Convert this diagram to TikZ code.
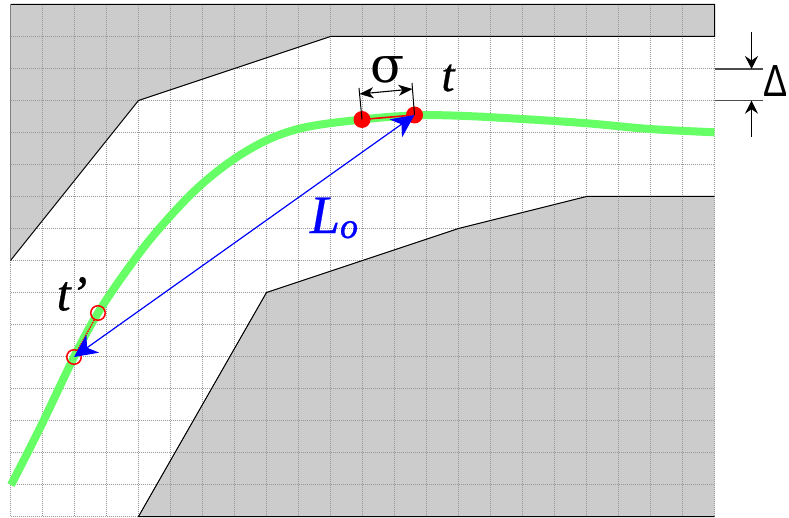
\documentclass[tikz,border=0pt]{standalone}
\usepackage{fontspec}
\setmainfont{Liberation Serif}
\usetikzlibrary{arrows.meta}
\definecolor{wallgray}{gray}{0.8}
\definecolor{pathgreen}{RGB}{102,255,102}
\tikzset{
  gridline/.style={black!40,line width=0.8pt,dash pattern=on 1pt off 1pt},
  wall/.style={fill=wallgray,draw=none},
  wallline/.style={black,line width=1pt},
  dimline/.style={black,line width=1pt},
  dimarrow/.style={black,line width=1.1pt,-{Stealth[length=13pt,width=13pt,inset=4.5pt]}},
  bluearrow/.style={blue,line width=1.2pt,{Stealth[length=23pt,width=22pt,inset=7pt]}-{Stealth[length=23pt,width=22pt,inset=7pt]}},
  filledpt/.style={circle,fill=red,inner sep=0pt,minimum size=17pt},
  openpt/.style={circle,draw=red,line width=1.5pt,inner sep=0pt,minimum size=14.5pt},
  lbl/.style={inner sep=0pt,text=black}
}
\begin{document}
\begin{tikzpicture}[x=1pt,y=-1pt]
\useasboundingbox (0,0) rectangle (789,518);
\fill[white] (0,0) rectangle (789,518);
% walls
\fill[wall] (10.5,4.5) -- (714.5,4.5) -- (714.5,36.5) -- (330.5,36.5) -- (138.5,100.5) -- (10.5,260.5) -- cycle;
\fill[wall] (138.5,516.5) -- (266.5,292.5) -- (458.5,228.5) -- (586.5,196.5) -- (714.5,196.5) -- (714.5,516.5) -- cycle;
% grid
\foreach \i in {0,...,22} \draw[gridline] ({10.5+32*\i},4.5) -- ({10.5+32*\i},516.5);
\foreach \j in {0,...,16} \draw[gridline] (10.5,{4.5+32*\j}) -- (714.5,{4.5+32*\j});
\draw[wallline] (10.5,4.5) -- (714.5,4.5) -- (714.5,36.5) -- (330.5,36.5) -- (138.5,100.5) -- (10.5,260.5);
\draw[gray,line width=1.2pt] (10.5,4.5) -- (10.5,260.5);
\draw[wallline] (714.5,196.5) -- (586.5,196.5) -- (458.5,228.5) -- (266.5,292.5) -- (138.5,516.5) -- (714.5,516.5);
% trajectory
\coordinate (tp0) at (98,313);
\coordinate (tp1) at (74,357);
\coordinate (s0) at (362,119.5);
\coordinate (s1) at (414.5,115);
\draw[pathgreen,line width=8pt] plot[smooth,tension=0.6] coordinates {
  (11,485) (40,428) (74,357) (98,313) (127,270) (158,230) (202,184) (250,149)
  (298,129) (362,119.5) (414.5,115.5) (458,115.7) (522,119)
  (587,123.3) (650,129) (714.5,132.3)};
\node[filledpt] (a) at (s0) {};
\node[filledpt] (b) at (s1) {};
\draw[red,line width=1.6pt] (s0) -- (s1);
\node[openpt] (c) at (tp0) {};
\node[openpt] (d) at (tp1) {};
\draw[red,line width=1.4pt,densely dotted] (c) -- (d);
\draw[bluearrow] (d.center) -- (b.center);
% sigma dimension
\coordinate (sl) at (359,88);
\coordinate (sr) at (412,83);
\draw[dimline] (sl) -- (a.center);
\draw[dimline] (sr) -- (b.center);
\coordinate (al) at (359.5,94);
\coordinate (ar) at (412.5,89);
\draw[black,line width=1.1pt,{Stealth[length=14pt,width=11pt,inset=4pt]}-{Stealth[length=14pt,width=11pt,inset=4pt]}] (al) -- (ar);
% Delta dimension
\coordinate (d1l) at (714.5,69);
\coordinate (d1r) at (763,69);
\coordinate (d2l) at (714.5,100.7);
\coordinate (d2r) at (763,100.7);
\draw[black!70,line width=1.2pt] (d1l) -- (d1r);
\draw[black!70,line width=1.2pt] (d2l) -- (d2r);
\coordinate (u0) at (751.5,32);
\coordinate (u1) at (751.5,69);
\coordinate (v0) at (751.5,137);
\coordinate (v1) at (751.5,100.7);
\draw[dimarrow] (u0) -- (u1);
\draw[dimarrow] (v0) -- (v1);
% labels
\node[lbl] (sigma) at (388,70) {\fontspec{DejaVu Serif}\fontsize{50}{50}\selectfont σ};
\node[lbl,font=\fontsize{47}{47}\selectfont\itshape\addfontfeature{FakeBold=0.6}] (tt) at (448,78) {t};
\node[lbl,font=\fontsize{50}{50}\selectfont\itshape\addfontfeature{FakeBold=0.6}] (tq) at (72,294) {t’};
\node[lbl,xscale=0.8] (delta) at (776,81) {\fontspec{Liberation Sans}\fontsize{45}{45}\selectfont Δ};
\node[lbl,text=blue,font=\fontsize{54}{54}\selectfont\itshape\addfontfeature{FakeBold=0.5}] (lo) at (334,218) {L\raisebox{-5pt}{\fontsize{36}{36}\selectfont\addfontfeature{FakeBold=0.5} o}};
\end{tikzpicture}
\end{document}
